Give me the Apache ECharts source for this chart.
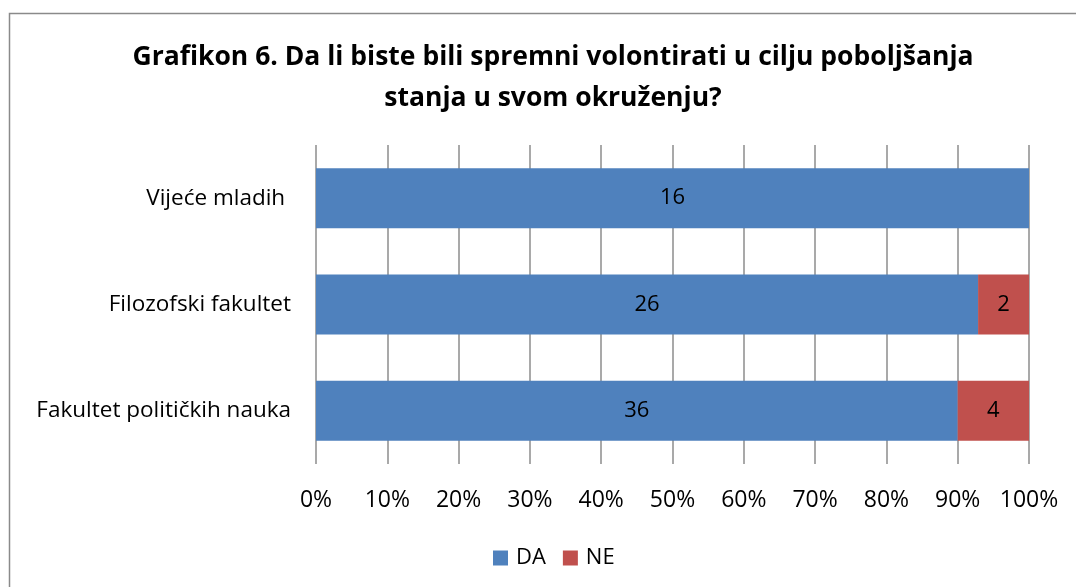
<!DOCTYPE html>
<html>
<head>
<meta charset="utf-8">
<script src="https://cdn.jsdelivr.net/npm/echarts@6/dist/echarts.min.js"></script>
<style>
  html, body { margin: 0; padding: 0; background: #fff; }
  #main { width: 1076px; height: 587px; }
</style>
</head>
<body>
<div id="main"></div>
<script>
var categories = ['Fakultet političkih nauka', 'Filozofski fakultet', 'Vijeće mladih '];
var daCounts = [36, 26, 16];
var neCounts = [4, 2, 0];
var tickLabels = ['0%', '10%', '20%', '30%', '40%', '50%', '60%', '70%', '80%', '90%', '100%'];

var FONT = '"Open Sans", sans-serif';

// procenti za 100% stacked prikaz
function toPercent(arr, i) {
  var total = daCounts[i] + neCounts[i];
  return arr[i] / total * 100;
}
var daData = daCounts.map(function (v, i) { return { value: toPercent(daCounts, i), count: v }; });
var neData = neCounts.map(function (v, i) { return { value: toPercent(neCounts, i), count: v }; });

var labelOpt = {
  show: true,
  position: 'inside',
  color: '#000',
  fontFamily: FONT,
  fontSize: 22,
  formatter: function (p) { return p.data.count ? String(p.data.count) : ''; }
};

var myChart = echarts.init(document.getElementById('main'));
var option = {
  backgroundColor: '#fff',
  animation: false,
  title: {
    text: 'Grafikon 6. Da li biste bili spremni volontirati u cilju poboljšanja\nstanja u svom okruženju?',
    left: 548,
    top: 32,
    textAlign: 'center',
    textStyle: {
      fontFamily: FONT,
      fontSize: 26.5,
      fontWeight: 'bold',
      color: '#000',
      lineHeight: 41
    }
  },
  graphic: [{
    type: 'rect',
    shape: { x: 9.5, y: 13.5, width: 2000, height: 2000 },
    style: { fill: 'none', stroke: '#8a8a8a', lineWidth: 1.5 },
    silent: true
  }],
  legend: {
    top: 542,
    left: 488,
    icon: 'rect',
    itemWidth: 15,
    itemHeight: 15,
    itemGap: 17,
    textStyle: { fontFamily: FONT, fontSize: 22, color: '#000', padding: [0, 0, 0, 3] },
    data: ['DA', 'NE']
  },
  grid: {
    left: 316,
    right: 47,
    top: 145,
    bottom: 123
  },
  xAxis: {
    type: 'value',
    min: 0,
    max: 100,
    interval: 10,
    axisLine: { show: false },
    axisTick: { show: false },
    splitLine: { show: true, lineStyle: { color: '#8c8c8c', width: 1.5 } },
    axisLabel: {
      margin: 25,
      fontFamily: FONT,
      fontSize: 23,
      color: '#000',
      formatter: function (v) { return tickLabels[Math.round(v / 10)]; }
    }
  },
  yAxis: {
    type: 'category',
    data: categories,
    axisLine: { show: false },
    axisTick: { show: false },
    axisLabel: {
      margin: 25,
      fontFamily: FONT,
      fontSize: 22.5,
      color: '#000'
    }
  },
  series: [
    {
      name: 'DA',
      type: 'bar',
      stack: 'total',
      barWidth: 60,
      itemStyle: { color: '#4F81BD' },
      label: labelOpt,
      data: daData
    },
    {
      name: 'NE',
      type: 'bar',
      stack: 'total',
      barWidth: 60,
      itemStyle: { color: '#C0504D' },
      label: labelOpt,
      data: neData
    }
  ]
};
myChart.setOption(option);
</script>
</body>
</html>
